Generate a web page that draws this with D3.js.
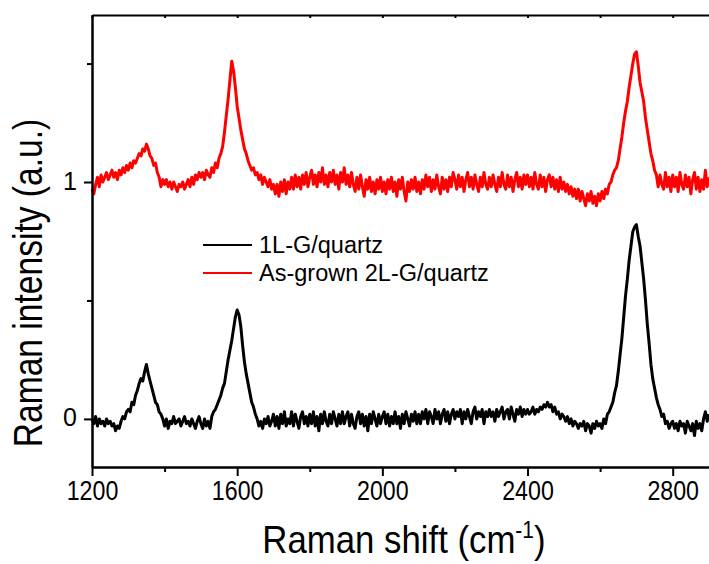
<!DOCTYPE html>
<html>
<head>
<meta charset="utf-8">
<script src="https://cdn.jsdelivr.net/npm/d3@7"></script>
<style>
  body { margin: 0; background: #fff; }
  svg { display: block; }
  text { font-family: "Liberation Sans", Arial, sans-serif; fill: #000; }
</style>
</head>
<body>
<script>
// Raman shift grid (cm-1), one reading every 5 cm-1 from 1200 to 2900
var shiftStart = 1200, shiftStep = 5;

// 1L-G/quartz
var oneLayer = [
  0.00,-0.02,0.01,-0.03,0.00,-0.02,-0.01,-0.03,0.00,-0.02,-0.01,-0.03,-0.02,-0.05,-0.03,-0.04,-0.01,0.01,0.00,0.03,
  0.04,0.03,0.07,0.06,0.10,0.12,0.15,0.17,0.16,0.20,0.23,0.19,0.16,0.13,0.10,0.07,0.06,0.03,0.02,0.00,
  -0.03,0.00,-0.04,-0.01,-0.02,0.01,-0.02,-0.01,0.00,-0.03,-0.01,0.01,-0.02,-0.01,-0.03,0.00,-0.02,-0.04,-0.01,0.01,
  -0.02,-0.04,0.00,-0.03,-0.01,-0.04,0.01,0.03,0.04,0.06,0.08,0.10,0.13,0.15,0.20,0.25,0.29,0.33,0.38,0.43,
  0.46,0.44,0.39,0.31,0.24,0.19,0.15,0.11,0.07,0.05,0.02,0.00,-0.03,-0.01,-0.04,0.00,-0.02,0.01,-0.03,-0.01,
  0.02,-0.03,0.01,-0.04,0.02,-0.02,0.03,-0.03,0.00,-0.02,0.03,-0.03,0.02,-0.01,-0.04,0.01,0.03,-0.02,0.01,-0.03,
  0.02,-0.02,0.03,-0.03,0.01,-0.05,0.02,-0.02,0.03,-0.01,-0.03,0.02,-0.02,0.03,0.00,-0.03,0.02,-0.02,0.03,-0.02,
  0.01,0.03,-0.03,0.02,-0.02,-0.04,0.01,0.03,-0.02,0.02,-0.03,0.01,-0.05,0.02,-0.02,0.03,0.00,-0.03,0.02,-0.02,
  0.01,0.03,-0.02,0.02,-0.03,0.01,-0.02,0.03,-0.02,0.01,-0.04,0.02,-0.02,0.03,0.00,-0.03,0.02,-0.01,0.03,-0.02,
  0.02,-0.02,0.03,0.00,0.04,-0.02,0.03,0.01,-0.02,0.04,0.00,0.03,-0.02,0.02,0.04,-0.01,0.03,-0.02,0.02,0.04,
  0.00,0.03,0.01,0.04,-0.02,0.03,0.00,0.04,0.01,-0.02,0.03,0.05,0.00,0.03,0.01,0.04,-0.02,0.03,0.01,0.04,
  0.01,0.03,-0.01,0.04,0.01,0.03,0.05,0.00,0.03,0.04,0.00,0.05,0.02,-0.01,0.04,0.02,0.05,0.01,0.04,0.02,
  0.04,0.02,0.03,0.05,0.02,0.04,0.03,0.05,0.04,0.06,0.05,0.07,0.05,0.06,0.03,0.05,0.02,0.03,0.00,0.02,
  0.01,-0.01,0.01,-0.02,0.00,-0.03,-0.01,-0.02,-0.04,-0.02,-0.03,-0.01,-0.05,-0.02,-0.03,-0.06,-0.02,-0.04,-0.01,-0.03,
  -0.02,-0.04,0.00,-0.02,0.02,0.03,0.05,0.07,0.11,0.14,0.20,0.27,0.34,0.43,0.52,0.59,0.67,0.73,0.79,0.81,
  0.82,0.77,0.73,0.66,0.59,0.50,0.40,0.32,0.23,0.17,0.13,0.09,0.06,0.04,0.01,0.02,-0.02,-0.01,-0.04,-0.02,
  -0.01,-0.04,-0.02,-0.05,-0.01,-0.03,-0.02,-0.06,-0.01,-0.03,-0.05,-0.02,-0.07,-0.01,-0.04,-0.02,-0.05,0.00,0.03,-0.01,
  0.02
];

// As-grown 2L-G/quartz (already stacked at +1)
var twoLayer = [
  0.97,0.95,0.99,1.02,0.98,1.03,1.00,1.02,1.04,1.01,1.03,1.05,1.02,1.04,1.01,1.05,1.03,1.06,1.04,1.07,
  1.05,1.08,1.06,1.09,1.08,1.10,1.12,1.11,1.14,1.13,1.16,1.14,1.11,1.10,1.07,1.08,1.04,1.02,0.98,1.01,
  0.99,1.01,0.98,1.00,0.97,1.00,0.98,0.96,0.99,0.98,1.00,0.97,0.99,1.01,0.98,1.02,0.99,1.03,1.01,1.04,
  1.02,1.04,1.01,1.05,1.03,1.02,1.06,1.04,1.08,1.06,1.10,1.12,1.15,1.21,1.28,1.35,1.43,1.51,1.47,1.40,
  1.32,1.27,1.22,1.18,1.14,1.12,1.09,1.07,1.05,1.06,1.03,1.04,1.01,1.03,0.99,1.02,1.00,0.98,1.01,0.97,
  0.99,0.95,0.99,0.94,1.00,0.96,1.01,0.95,1.00,0.97,1.02,0.97,1.03,0.98,1.02,0.97,1.03,0.99,1.04,0.98,
  1.02,1.05,0.99,1.03,0.98,1.04,1.00,1.06,0.99,1.03,0.98,1.04,1.00,1.05,0.99,1.03,0.97,1.04,1.00,1.06,
  0.99,1.03,0.98,1.04,0.99,0.96,1.02,0.97,1.03,0.98,0.94,1.01,0.97,1.02,0.96,1.00,0.95,1.01,0.97,1.02,
  0.96,1.00,0.95,1.01,0.97,1.02,0.96,1.00,0.94,1.01,0.97,1.02,0.96,0.92,1.00,0.96,1.01,0.97,1.02,0.96,
  1.00,0.95,1.01,0.97,1.03,0.98,1.02,0.96,1.01,0.97,1.03,0.98,0.95,1.02,0.97,1.01,0.96,1.02,0.98,1.04,
  1.01,0.97,1.03,0.98,1.02,0.96,1.01,1.04,0.98,1.02,0.97,1.03,0.99,0.96,1.02,0.98,1.04,0.99,0.97,1.02,
  0.98,1.03,0.99,0.96,1.02,0.98,1.04,0.99,0.97,1.03,0.98,1.02,0.96,1.01,1.04,0.98,1.02,0.97,1.03,0.99,
  1.03,0.98,1.02,0.97,1.04,0.99,0.97,1.03,0.98,1.02,0.96,1.01,1.03,0.98,1.02,0.97,1.01,0.96,1.02,0.97,
  1.00,0.96,0.99,0.95,0.98,0.94,0.97,0.93,0.97,0.92,0.96,0.93,0.90,0.95,0.92,0.96,0.91,0.94,0.90,0.95,
  0.92,0.96,0.93,0.97,0.95,0.99,1.00,1.03,1.05,1.06,1.09,1.14,1.19,1.25,1.30,1.34,1.40,1.45,1.50,1.54,
  1.55,1.49,1.42,1.38,1.34,1.27,1.22,1.17,1.12,1.09,1.05,1.03,0.98,1.03,0.99,0.97,1.04,0.98,1.02,0.96,
  1.03,0.98,1.02,0.96,1.04,0.99,0.97,1.03,0.98,1.02,0.95,1.01,1.04,0.97,1.02,0.96,1.01,0.97,1.05,0.98,
  1.02
];

var xTicks = [1200, 1600, 2000, 2400, 2800];
var xMinor = [1400, 1800, 2200, 2600];
var yTicks = [0, 1];
var yMinor = [0.5, 1.5];

var seriesNames = ["1L-G/quartz", "As-grown 2L-G/quartz"];
var seriesColors = ["#000000", "#ff0000"];

var W = 709, H = 564;
var margin = {top: 15, right: 0, bottom: 97, left: 92};
var width = W - margin.left - margin.right;
var height = H - margin.top - margin.bottom;

var svg = d3.select("body").append("svg")
  .attr("width", W)
  .attr("height", H);

var g = svg.append("g")
  .attr("transform", "translate(" + margin.left + "," + margin.top + ")");

var x = d3.scaleLinear().domain([1200, 2900]).range([0, width]);
var y = d3.scaleLinear().domain([-0.203, 1.705]).range([height, 0]);

// spectra
var line = d3.line()
  .x(function(d, i) { return x(shiftStart + i * shiftStep); })
  .y(function(d) { return y(d); });

[oneLayer, twoLayer].forEach(function(s, k) {
  g.append("path")
    .datum(s)
    .attr("fill", "none")
    .attr("stroke", seriesColors[k])
    .attr("stroke-width", 3)
    .attr("stroke-linejoin", "round")
    .attr("d", line);
});

// axes
function styleAxis(sel) {
  sel.attr("font-family", null).attr("font-size", null);
  sel.selectAll("path").attr("stroke", "#000").attr("stroke-width", 2);
  sel.selectAll("line").attr("stroke", "#000").attr("stroke-width", 2);
}

var bottomAxis = g.append("g").attr("transform", "translate(0," + height + ")")
  .call(d3.axisBottom(x).tickValues(xTicks).tickSize(9).tickSizeOuter(0).tickFormat(d3.format("d")));
bottomAxis.call(styleAxis);
bottomAxis.selectAll("text")
  .attr("y", 33).attr("dy", null)
  .attr("font-size", 27)
  .attr("transform", "scale(0.86,1)");

var bottomMinor = g.append("g").attr("transform", "translate(0," + height + ")")
  .call(d3.axisBottom(x).tickValues(xMinor).tickSize(5).tickSizeOuter(0).tickFormat(""));
bottomMinor.call(styleAxis);

// top frame with small inward ticks
var topAxis = g.append("g")
  .call(d3.axisBottom(x).tickValues(xTicks.concat(xMinor)).tickSize(3).tickSizeOuter(0).tickFormat(""));
topAxis.call(styleAxis);

var leftAxis = g.append("g")
  .call(d3.axisLeft(y).tickValues(yTicks).tickSize(8).tickSizeOuter(0).tickFormat(d3.format("d")));
leftAxis.call(styleAxis);
leftAxis.selectAll("text")
  .attr("x", -15).attr("dy", null).attr("y", 7)
  .attr("font-size", 25);

var leftMinor = g.append("g")
  .call(d3.axisLeft(y).tickValues(yMinor).tickSize(5).tickSizeOuter(0).tickFormat(""));
leftMinor.call(styleAxis);

// axis titles
var xt = svg.append("text")
  .attr("transform", "translate(404,553) scale(0.915,1)")
  .attr("text-anchor", "middle")
  .attr("font-size", 38);
xt.append("tspan").text("Raman shift (cm");
xt.append("tspan").attr("font-size", 23).attr("dy", -15).text("-1");
xt.append("tspan").attr("dy", 15).text(")");

svg.append("text")
  .attr("transform", "translate(42,283) rotate(-90) scale(0.84,1)")
  .attr("text-anchor", "middle")
  .attr("font-size", 40)
  .text("Raman intensity (a.u.)");

// legend
var legend = svg.append("g").attr("transform", "translate(203,245)");
seriesNames.forEach(function(name, i) {
  var row = legend.append("g").attr("transform", "translate(0," + (i * 28) + ")");
  row.append("line")
    .attr("x1", 0).attr("x2", 49)
    .attr("stroke", seriesColors[i])
    .attr("stroke-width", 2);
  row.append("text")
    .attr("x", 56).attr("y", 8)
    .attr("font-size", 23.5)
    .text(name);
});
</script>
</body>
</html>
